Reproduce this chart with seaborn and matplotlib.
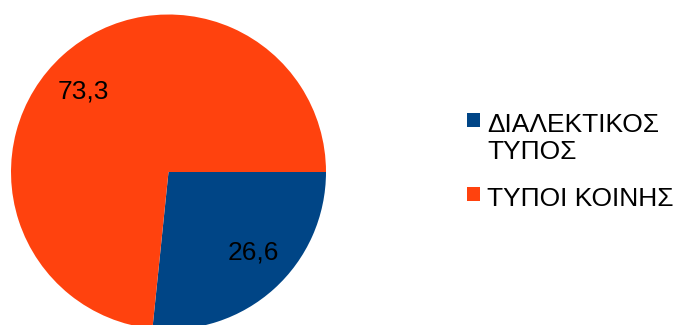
import textwrap

import numpy as np
import matplotlib
matplotlib.use("Agg")
import matplotlib.pyplot as plt
import seaborn as sns
from matplotlib.patches import Rectangle

# Share of forms: dialectal vs. common (Koine) forms, in percent
categories = ["ΔΙΑΛΕΚΤΙΚΟΣ ΤΥΠΟΣ", "ΤΥΠΟΙ ΚΟΙΝΗΣ"]
values = [26.6, 73.3]
colors = ["#004586", "#ff420e"]

sns.set_theme(style="white")
plt.rcParams["font.family"] = ["Liberation Sans", "DejaVu Sans"]

W, H = 677, 325
fig = plt.figure(figsize=(W / 100, H / 100), dpi=100)
fig.patch.set_facecolor("white")
ax = fig.add_axes([0, 0, 1, 1])

# pie geometry in pixels (centre measured from top-left corner)
R = 157.5
cx, cy = 168.5, 172.0

wedges, _ = ax.pie(
    values,
    colors=colors,
    startangle=0,
    counterclock=False,
    radius=1,
    wedgeprops=dict(linewidth=0),
)
ax.set_xlim(-cx / R, (W - cx) / R)
ax.set_ylim(-(H - cy) / R, cy / R)
ax.set_aspect("auto")
ax.axis("off")

FS = 19

# value labels inside the slices
for w, v in zip(wedges, values):
    mid = np.deg2rad((w.theta1 + w.theta2) / 2 + 4.5)
    ax.text(
        0.745 * np.cos(mid),
        0.745 * np.sin(mid),
        f"{v:.1f}".replace(".", ","),
        ha="center",
        va="center",
        fontsize=FS,
        color="black",
    )

# legend on the right, square keys aligned with the first text line
key = 13.5
x_key, x_text = 467.0, 487.0
line_h = 27.5
y = 113.0
for label, col in zip(categories, colors):
    fig.patches.append(
        Rectangle(
            (x_key / W, 1 - (y + key) / H),
            key / W,
            key / H,
            transform=fig.transFigure,
            facecolor=col,
            edgecolor="none",
        )
    )
    lines = textwrap.wrap(label, 12)
    for i, line in enumerate(lines):
        fig.text(
            x_text / W,
            1 - (y + 18.7 + i * line_h) / H,
            line,
            ha="left",
            va="baseline",
            fontsize=FS,
            color="black",
        )
    y += len(lines) * line_h + 19

fig.savefig("out.png", dpi=100, facecolor="white")
